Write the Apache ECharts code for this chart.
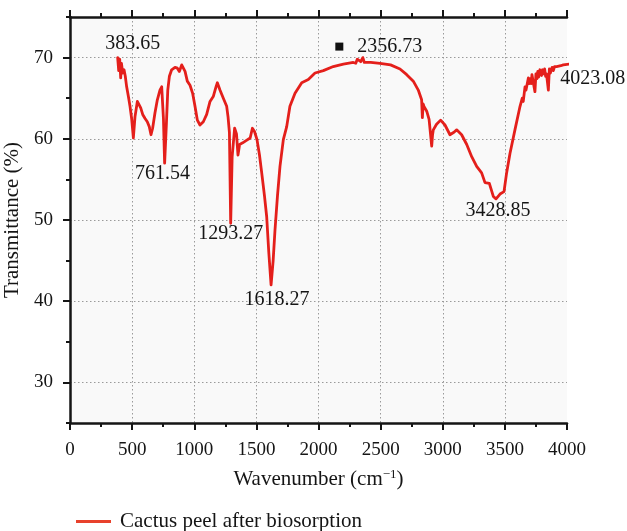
<!DOCTYPE html>
<html>
<head>
<meta charset="utf-8">
<script src="https://cdn.jsdelivr.net/npm/echarts@6/dist/echarts.min.js"></script>
<style>
  html, body { margin: 0; padding: 0; background: #ffffff; }
  #chart { width: 627px; height: 531px; }
</style>
</head>
<body>
<div id="chart"></div>
<script>
// FTIR spectrum: wavenumber (cm^-1) against transmittance (%)
const wavenumber = [
  383.65, 392, 400, 408, 414, 424, 435, 445, 456, 470, 483, 496, 510, 523, 542, 558,
  569, 585, 604, 622, 638, 652, 665, 684, 703, 724, 738, 752, 761.54, 776, 787, 800,
  818, 845, 864, 880, 899, 912, 926, 944, 966, 987, 1006, 1025, 1046, 1073, 1100, 1127,
  1153, 1175, 1186, 1207, 1234, 1261, 1272, 1283, 1293.27, 1305, 1325, 1340, 1352, 1365,
  1390, 1420, 1450, 1468, 1485, 1505, 1525, 1543, 1565, 1583, 1600, 1618.27, 1635, 1650,
  1670, 1690, 1717, 1744, 1770, 1811, 1865, 1918, 1972, 2039, 2119, 2200, 2280, 2300,
  2312, 2328, 2340, 2356.73, 2369, 2420, 2495, 2580, 2656, 2710, 2763, 2803, 2830, 2836,
  2842, 2849, 2871, 2890, 2904, 2911, 2918, 2924, 2950, 2983, 3018, 3058, 3090, 3112,
  3152, 3193, 3233, 3273, 3313, 3340, 3375, 3407, 3428.85, 3461, 3493, 3514, 3541, 3581,
  3622, 3640, 3648, 3662, 3670, 3689, 3695, 3705, 3712, 3718, 3729, 3742, 3750, 3758,
  3765, 3772, 3782, 3795, 3803, 3812, 3820, 3828, 3835, 3850, 3858, 3866, 3880, 3890,
  3900, 3917, 3930, 3950, 3970, 4023.08
];
const transmittance = [
  70.0, 68.4, 69.8, 67.5, 69.3, 68.1, 68.5, 67.7, 66.4, 65.2, 64.0, 62.5, 60.1, 62.7, 64.6, 64.8,
  63.8, 63.0, 62.5, 62.1, 61.5, 60.5, 61.3, 63.2, 64.8, 66.0, 66.4, 62.5, 57.0, 61.9, 66.0, 67.7,
  68.5, 68.8, 68.7, 68.3, 69.1, 68.9, 68.3, 67.1, 66.6, 65.6, 64.0, 62.3, 61.7, 62.1, 63.0, 64.6,
  65.2, 66.4, 66.9, 66.0, 65.0, 64.0, 62.7, 60.8, 49.6, 57.8, 61.3, 60.6, 58.0, 59.3,
  59.5, 59.8, 60.1, 61.3, 60.9, 59.9, 58.0, 55.8, 53.0, 50.4, 46.0, 42.0, 45.0, 48.8,
  53.0, 56.6, 59.9, 61.5, 64.0, 65.6, 66.9, 67.3, 68.1, 68.4, 68.9, 69.2, 69.4, 69.3,
  69.8, 70.0, 69.5, 70.0, 69.4, 69.4, 69.3, 69.1, 68.6, 67.9, 67.1, 66.0, 64.8, 62.6,
  64.3, 64.0, 63.4, 62.4, 60.2, 59.1, 60.5, 61.1, 61.8, 62.3, 61.7, 60.5, 60.8, 61.1,
  60.5, 59.3, 57.8, 56.6, 55.8, 54.6, 54.5, 52.9, 52.6, 53.2, 53.5, 55.8, 58.2, 61.1,
  64.0, 65.0, 64.6, 66.4, 66.0, 67.5, 66.8, 67.4, 66.8, 67.9, 68.1, 65.8, 68.0, 67.4,
  68.3, 67.6, 68.5, 67.8, 68.5, 68.0, 68.6, 67.7, 68.0, 66.0, 68.6, 68.1, 68.8, 68.4,
  68.9, 68.9, 68.7, 69.0, 69.1, 69.2
];

// Band positions that carry a wavenumber label
const peakWavenumbers = [383.65, 761.54, 1293.27, 1618.27, 2356.73, 3428.85, 4023.08];

const seriesName = 'Cactus peel after biosorption';
const xAxisTitle = 'Wavenumber (cm{sup|\u22121})';
const yAxisTitle = 'Transmittance (%)';

// label placement around each band (pixel offsets)
const labelOffsets = [[15, -14], [-2, 11], [0, 11], [6, 15], [16, -11], [2, 12], [23, 15]];

const serif = '"Liberation Serif", "DejaVu Serif", serif';
const ink = '#151515';
const axisInk = '#151515';
const gridInk = '#9a9a9a';

const spectrum = wavenumber.map((w, i) => [w, transmittance[i]]);
const peakPoints = peakWavenumbers.map((w, i) => {
  const idx = wavenumber.indexOf(w);
  const isMarked = w === 2356.73;
  return {
    value: [w, transmittance[idx]],
    label: {
      show: true,
      position: 'inside',
      offset: labelOffsets[i],
      formatter: isMarked ? '{sq|}{sp|}' + w.toFixed(2) : w.toFixed(2)
    }
  };
});

const chart = echarts.init(document.getElementById('chart'), null, { renderer: 'canvas' });

const commonX = {
  type: 'value',
  min: 0,
  max: 4000,
  interval: 500
};

chart.setOption({
  animation: false,
  backgroundColor: '#ffffff',
  grid: {
    left: 70, top: 17, width: 497, height: 406,
    containLabel: false,
    outerBoundsMode: 'none',
    show: true, backgroundColor: '#f9f9f9', borderWidth: 0
  },
  legend: {
    data: [{ name: seriesName, itemStyle: { color: '#e8412c' } }],
    icon: 'rect',
    left: 71,
    top: 506,
    itemWidth: 35,
    itemHeight: 3,
    selectedMode: false,
    textStyle: { fontFamily: serif, fontSize: 21, color: ink, padding: [0, 0, 0, 4] }
  },
  xAxis: [
    Object.assign({}, commonX, {
      position: 'bottom',
      name: xAxisTitle,
      nameLocation: 'middle',
      nameGap: 45,
      nameTextStyle: {
        fontFamily: serif, fontSize: 21, color: ink,
        rich: {
          sup: { fontFamily: serif, fontSize: 13, color: ink, verticalAlign: 'top', padding: [0, 0, 10, 0] }
        }
      },
      axisLine: { show: true, onZero: false, lineStyle: { color: axisInk, width: 2.5 } },
      axisTick: { show: true, length: 7, lineStyle: { color: axisInk, width: 2 } },
      minorTick: { show: true, splitNumber: 2, length: 4, lineStyle: { color: axisInk, width: 2 } },
      axisLabel: { fontFamily: serif, fontSize: 19, color: ink, margin: 18, formatter: v => String(v) },
      splitLine: {
        show: true, showMinLine: false, showMaxLine: false,
        lineStyle: { color: gridInk, width: 1, type: [1.5, 2.5] }
      }
    }),
    Object.assign({}, commonX, {
      position: 'top',
      axisLine: { show: true, onZero: false, lineStyle: { color: axisInk, width: 2.5 } },
      axisTick: { show: true, length: 7, lineStyle: { color: axisInk, width: 2 } },
      minorTick: { show: true, splitNumber: 2, length: 4, lineStyle: { color: axisInk, width: 2 } },
      axisLabel: { show: false },
      splitLine: { show: false }
    })
  ],
  yAxis: [
    {
      type: 'value',
      min: 25,
      max: 75,
      interval: 5,
      position: 'left',
      name: yAxisTitle,
      nameLocation: 'middle',
      nameGap: 42,
      nameTextStyle: { fontFamily: serif, fontSize: 21, color: ink },
      axisLine: { show: true, onZero: false, lineStyle: { color: axisInk, width: 2.5 } },
      axisTick: { show: true, length: 4, lineStyle: { color: axisInk, width: 2 } },
      axisLabel: {
        fontFamily: serif, fontSize: 19, color: ink, margin: 17,
        formatter: v => (v % 10 === 0 ? String(v) : '')
      },
      splitLine: {
        show: true, showMinLine: true, showMaxLine: true,
        lineStyle: { color: ['rgba(0,0,0,0)', gridInk], width: 1, type: [1.5, 2.5] }
      }
    },
    {
      // long ticks at the labelled decades
      type: 'value',
      min: 25,
      max: 75,
      interval: 10,
      position: 'left',
      axisLine: { show: false },
      axisTick: { show: false },
      minorTick: { show: true, splitNumber: 2, length: 7, lineStyle: { color: axisInk, width: 2 } },
      axisLabel: { show: false },
      splitLine: { show: false }
    }
  ],
  series: [
    {
      name: seriesName,
      type: 'line',
      data: spectrum,
      showSymbol: false,
      symbol: 'none',
      smooth: false,
      clip: false,
      lineStyle: { color: '#e41f1b', width: 2.8, join: 'round', cap: 'round' },
      itemStyle: { color: '#e41f1b' },
      z: 3
    },
    {
      name: 'bands',
      type: 'scatter',
      data: peakPoints,
      symbolSize: 0,
      silent: true,
      clip: false,
      itemStyle: { color: '#111111' },
      z: 5,
      label: {
        fontFamily: serif,
        fontSize: 20,
        color: ink,
        opacity: 1,
        textBorderWidth: 0,
        textBorderColor: 'transparent',
        align: 'center',
        verticalAlign: 'middle',
        rich: {
          sq: { width: 8, height: 8, backgroundColor: '#111111' },
          sp: { width: 14 }
        }
      }
    }
  ]
});
</script>
</body>
</html>
